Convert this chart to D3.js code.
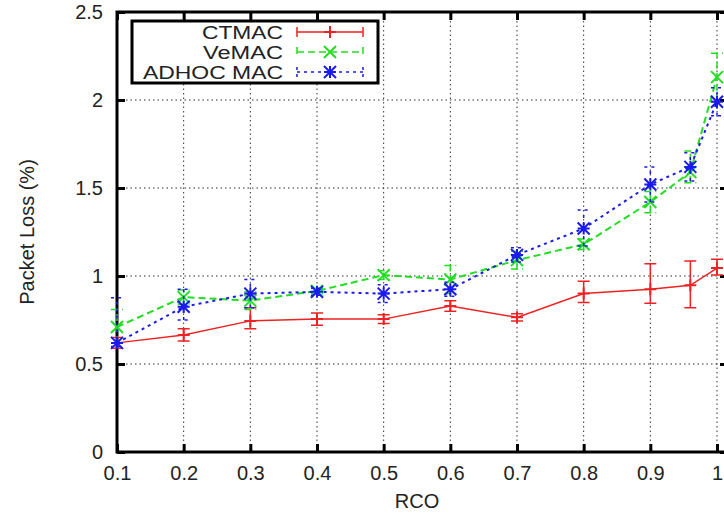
<!DOCTYPE html>
<html>
<head>
<meta charset="utf-8">
<script src="https://cdn.jsdelivr.net/npm/d3@7"></script>
<style>
  body { margin: 0; background: #fff; }
  text { font-family: "Liberation Sans", Arial, sans-serif; fill: #222; }
</style>
</head>
<body>
<svg id="chart" width="724" height="520"></svg>
<script>
// values
var rco = [0.1, 0.2, 0.3, 0.4, 0.5, 0.6, 0.7, 0.8, 0.9, 0.96, 1.0];
var xTicks = [0.1, 0.2, 0.3, 0.4, 0.5, 0.6, 0.7, 0.8, 0.9, 1];
var yTicks = [0, 0.5, 1, 1.5, 2, 2.5];

var ctmac   = [0.62, 0.665, 0.745, 0.755, 0.755, 0.83, 0.765, 0.90, 0.925, 0.947, 1.045];
var ctmacLo = [0.59, 0.63, 0.70, 0.72, 0.73, 0.80, 0.745, 0.85, 0.845, 0.82, 1.005];
var ctmacHi = [0.65, 0.70, 0.82, 0.79, 0.78, 0.86, 0.785, 0.97, 1.07, 1.085, 1.095];

var vemac   = [0.71, 0.88, 0.86, 0.915, 1.005, 0.98, 1.09, 1.18, 1.42, 1.59, 2.13];
var vemacLo = [0.62, 0.84, 0.81, 0.90, 0.98, 0.90, 1.04, 1.15, 1.36, 1.53, 1.99];
var vemacHi = [0.81, 0.92, 0.91, 0.93, 1.03, 1.06, 1.14, 1.21, 1.48, 1.71, 2.265];

var adhoc   = [0.62, 0.825, 0.90, 0.91, 0.90, 0.925, 1.12, 1.27, 1.52, 1.62, 1.99];
var adhocLo = [0.60, 0.75, 0.82, 0.89, 0.85, 0.885, 1.08, 1.17, 1.42, 1.54, 1.91];
var adhocHi = [0.877, 0.925, 0.98, 0.93, 0.95, 0.965, 1.16, 1.375, 1.62, 1.70, 2.07];

var names = ['CTMAC', 'VeMAC', 'ADHOC MAC'];
var nameWidths = [81, 80, 140];
var colors = ['#ee2222', '#22dd22', '#1a1aee'];
var dashes = [null, '7,4', '3,4'];
var markers = ['plus', 'cross', 'star'];

function drawChart() {
    var svg = d3.select('#chart');
    var pLeft = 117, pTop = 12, pBottom = 452, pRight = 728;

    var x = d3.scaleLinear().domain([0.1, 1]).range([pLeft, 717]);
    var y = d3.scaleLinear().domain([0, 2.5]).range([pBottom, pTop]);

    // grid
    svg.append('g').selectAll('line')
        .data(xTicks.slice(1))
        .enter().append('line')
        .attr('x1', function (d) { return x(d); })
        .attr('x2', function (d) { return x(d); })
        .attr('y1', pTop).attr('y2', pBottom)
        .attr('stroke', '#333').attr('stroke-width', 1)
        .attr('stroke-dasharray', '1.5,3');
    svg.append('g').selectAll('line')
        .data(yTicks.slice(1, -1))
        .enter().append('line')
        .attr('x1', pLeft).attr('x2', pRight)
        .attr('y1', function (d) { return y(d); })
        .attr('y2', function (d) { return y(d); })
        .attr('stroke', '#333').attr('stroke-width', 1)
        .attr('stroke-dasharray', '1.5,3');

    // frame
    svg.append('rect')
        .attr('x', pLeft).attr('y', pTop)
        .attr('width', pRight - pLeft).attr('height', pBottom - pTop)
        .attr('fill', 'none').attr('stroke', '#000').attr('stroke-width', 3);

    // axes, ticks point inward
    var xAxis = svg.append('g').attr('transform', 'translate(0,' + pBottom + ')')
        .call(d3.axisBottom(x).tickValues(xTicks).tickSize(-8).tickPadding(14)
            .tickFormat(function (d) { return d === 1 ? '1' : d3.format('.1f')(d); }));
    var yAxis = svg.append('g').attr('transform', 'translate(' + pLeft + ',0)')
        .call(d3.axisLeft(y).tickValues(yTicks).tickSize(-8).tickPadding(14)
            .tickFormat(function (d) { return d % 1 === 0 ? String(d) : d3.format('.1f')(d); }));
    var xTop = svg.append('g').attr('transform', 'translate(0,' + pTop + ')')
        .call(d3.axisTop(x).tickValues(xTicks).tickSize(-8).tickFormat(''));
    var yRight = svg.append('g').attr('transform', 'translate(' + pRight + ',0)')
        .call(d3.axisRight(y).tickValues(yTicks).tickSize(-8).tickFormat(''));

    [xAxis, yAxis, xTop, yRight].forEach(function (a) {
        a.attr('font-size', 20).attr('font-family', null);
        a.select('.domain').remove();
        a.selectAll('.tick line').attr('stroke', '#000').attr('stroke-width', 3);
        a.selectAll('.tick text').attr('fill', '#222');
    });

    // axis titles
    svg.append('text').attr('x', 417).attr('y', 508)
        .attr('text-anchor', 'middle').attr('font-size', 20).text('RCO');
    svg.append('text').attr('transform', 'translate(34,232) rotate(-90)')
        .attr('text-anchor', 'middle').attr('font-size', 20).text('Packet Loss (%)');

    function drawMarker(g, type, cx, cy, color) {
        var s = 6;
        var p = '';
        if (type === 'plus' || type === 'star') {
            p += 'M' + (cx - s) + ',' + cy + 'H' + (cx + s) + 'M' + cx + ',' + (cy - s) + 'V' + (cy + s);
        }
        if (type === 'cross' || type === 'star') {
            p += 'M' + (cx - s) + ',' + (cy - s) + 'L' + (cx + s) + ',' + (cy + s) +
                 'M' + (cx - s) + ',' + (cy + s) + 'L' + (cx + s) + ',' + (cy - s);
        }
        g.append('path').attr('d', p).attr('stroke', color).attr('stroke-width', 2).attr('fill', 'none');
    }

    var series = [
        { v: ctmac, lo: ctmacLo, hi: ctmacHi },
        { v: vemac, lo: vemacLo, hi: vemacHi },
        { v: adhoc, lo: adhocLo, hi: adhocHi }
    ];

    var plot = svg.append('g');
    series.forEach(function (s, i) {
        var g = plot.append('g');
        var pts = rco.map(function (r, j) { return { x: r, y: s.v[j], lo: s.lo[j], hi: s.hi[j] }; });

        // error bars
        var eb = g.selectAll('path.err').data(pts).enter().append('path')
            .attr('class', 'err')
            .attr('d', function (d) {
                var cx = x(d.x), w = 6;
                return 'M' + cx + ',' + y(d.lo) + 'V' + y(d.hi) +
                    'M' + (cx - w) + ',' + y(d.lo) + 'H' + (cx + w) +
                    'M' + (cx - w) + ',' + y(d.hi) + 'H' + (cx + w);
            })
            .attr('stroke', colors[i]).attr('stroke-width', 1.5).attr('fill', 'none');
        if (dashes[i]) eb.attr('stroke-dasharray', dashes[i]);

        var line = d3.line().x(function (d) { return x(d.x); }).y(function (d) { return y(d.y); });
        var ln = g.append('path').datum(pts).attr('d', line)
            .attr('stroke', colors[i]).attr('stroke-width', i === 0 ? 1.5 : 2).attr('fill', 'none');
        if (dashes[i]) ln.attr('stroke-dasharray', dashes[i]);

        pts.forEach(function (d) { drawMarker(g, markers[i], x(d.x), y(d.y), colors[i]); });
    });

    // legend
    var lg = svg.append('g');
    lg.append('rect').attr('x', 132).attr('y', 21).attr('width', 246).attr('height', 62)
        .attr('fill', '#fff').attr('stroke', '#000').attr('stroke-width', 3);
    names.forEach(function (n, i) {
        var ly = 32 + i * 20;
        lg.append('text').attr('x', 283).attr('y', ly + 7)
            .attr('text-anchor', 'end').attr('font-size', 18)
            .attr('textLength', nameWidths[i]).attr('lengthAdjust', 'spacingAndGlyphs')
            .text(n);
        var l = lg.append('path')
            .attr('d', 'M297,' + ly + 'H363M297,' + (ly - 5) + 'V' + (ly + 5) + 'M363,' + (ly - 5) + 'V' + (ly + 5))
            .attr('stroke', colors[i]).attr('stroke-width', 1.5).attr('fill', 'none');
        if (dashes[i]) l.attr('stroke-dasharray', dashes[i]);
        drawMarker(lg, markers[i], 330, ly, colors[i]);
    });
}

drawChart();
</script>
</body>
</html>
